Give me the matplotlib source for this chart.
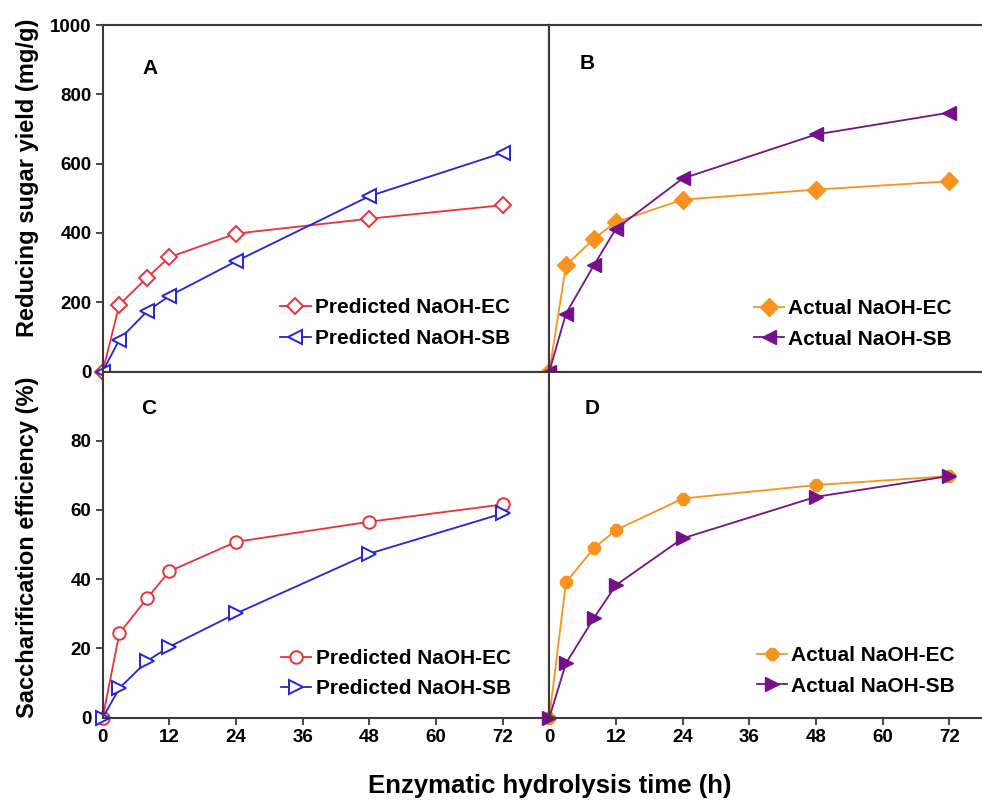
import matplotlib
matplotlib.use("Agg")
import matplotlib.pyplot as plt

plt.rcParams["font.family"] = ["Liberation Sans", "DejaVu Sans"]
plt.rcParams["font.weight"] = "bold"

# hydrolysis times (h)
time_h = [0, 3, 8, 12, 24, 48, 72]

# reducing sugar yield (mg/g)
pred_ec_yield = [0, 193, 271, 330, 398, 441, 480]
pred_sb_yield = [0, 92, 174, 218, 318, 506, 631]
act_ec_yield = [0, 306, 383, 431, 496, 525, 549]
act_sb_yield = [0, 167, 306, 412, 557, 684, 747]

# saccharification efficiency (%)
pred_ec_eff = [0, 24.4, 34.5, 42.3, 50.8, 56.6, 61.6]
pred_sb_eff = [0, 8.5, 16.4, 20.5, 30.1, 47.4, 59.0]
act_ec_eff = [0, 39.1, 48.9, 54.2, 63.3, 67.2, 69.8]
act_sb_eff = [0, 15.7, 28.7, 38.3, 51.8, 63.8, 69.8]

xticks = [0, 12, 24, 36, 48, 60, 72]

red = "#e8323c"
blue = "#2424d8"
orange = "#f7931e"
purple = "#74118a"
spine_col = "#3a3a3a"

fig = plt.figure(figsize=(9.82, 8.02), dpi=100)
W, H = 982.0, 802.0

# axes placed in pixel terms
x_left, x_right = 102.7, 549.3
px_per_h = (502.7 - 102.7) / 72.0
y_top0, y_top1 = 371.5, 25.0
y_bot0, y_bot1 = 717.7, 371.5

w_left = x_right - x_left
w_right = 80 * px_per_h  # runs past the right edge of the figure
vis_right = W - x_right

axA = fig.add_axes([x_left / W, 1 - y_top0 / H, w_left / W, (y_top0 - y_top1) / H])
axB = fig.add_axes([x_right / W, 1 - y_top0 / H, w_right / W, (y_top0 - y_top1) / H])
axC = fig.add_axes([x_left / W, 1 - y_bot0 / H, w_left / W, (y_bot0 - y_bot1) / H])
axD = fig.add_axes([x_right / W, 1 - y_bot0 / H, w_right / W, (y_bot0 - y_bot1) / H])

lw = 1.3
axA.plot(time_h, pred_ec_yield, color=red, marker="D", ms=8.5, mfc="white",
         mec=red, mew=1.4, lw=lw, clip_on=False, label="Predicted NaOH-EC")
axA.plot(time_h, pred_sb_yield, color=blue, marker="<", ms=10, mfc="white",
         mec=blue, mew=1.4, lw=lw, clip_on=False, label="Predicted NaOH-SB")

axB.plot(time_h, act_ec_yield, color=orange, marker="D", ms=9, mfc=orange,
         mec=orange, lw=lw, clip_on=False, label="Actual NaOH-EC")
axB.plot(time_h, act_sb_yield, color=purple, marker="<", ms=10, mfc=purple,
         mec=purple, lw=lw, clip_on=False, label="Actual NaOH-SB")

axC.plot(time_h, pred_ec_eff, color=red, marker="o", ms=9, mfc="white",
         mec=red, mew=1.4, lw=lw, clip_on=False, label="Predicted NaOH-EC")
axC.plot(time_h, pred_sb_eff, color=blue, marker=">", ms=10, mfc="white",
         mec=blue, mew=1.4, lw=lw, clip_on=False, label="Predicted NaOH-SB")

axD.plot(time_h, act_ec_eff, color=orange, marker="8", ms=9, mfc=orange,
         mec=orange, lw=lw, clip_on=False, label="Actual NaOH-EC")
axD.plot(time_h, act_sb_eff, color=purple, marker=">", ms=10, mfc=purple,
         mec=purple, lw=lw, clip_on=False, label="Actual NaOH-SB")

axA.set_xlim(0, w_left / px_per_h)
axC.set_xlim(0, w_left / px_per_h)
axB.set_xlim(0, 80)
axD.set_xlim(0, 80)
for ax in (axA, axB):
    ax.set_ylim(0, 1000)
for ax in (axC, axD):
    ax.set_ylim(0, 100)

axA.set_yticks([0, 200, 400, 600, 800, 1000])
axC.set_yticks([0, 20, 40, 60, 80])
axB.set_yticks([])
axD.set_yticks([])
axA.set_xticks([])
axB.set_xticks([])
axC.set_xticks(xticks)
axD.set_xticks(xticks)

for ax in (axA, axB, axC, axD):
    for s in ax.spines.values():
        s.set_color(spine_col)
        s.set_linewidth(1.5)
    ax.tick_params(direction="out", length=5, width=1.3, color=spine_col,
                   labelsize=13.5, pad=3)
    for lab in ax.get_xticklabels() + ax.get_yticklabels():
        lab.set_fontweight("bold")


def frac(ax, fx):
    # fractions measured on the visible part of the right panels
    return fx * vis_right / w_right if ax in (axB, axD) else fx


letters = [(axA, "A", 0.106, 0.875), (axB, "B", 0.087, 0.888),
           (axC, "C", 0.102, 0.892), (axD, "D", 0.0985, 0.892)]
for ax, t, fx, fy in letters:
    ax.text(frac(ax, fx), fy, t, transform=ax.transAxes, ha="center",
            va="center", fontsize=15, fontweight="bold")

leg_pos = [(axA, 0.912, 0.068), (axB, 0.93, 0.066),
           (axC, 0.914, 0.056), (axD, 0.938, 0.064)]
for ax, bx, by in leg_pos:
    ax.legend(loc="lower right", bbox_to_anchor=(frac(ax, bx), by),
              frameon=False, borderpad=0, borderaxespad=0, handlelength=1.45,
              handletextpad=0.2, labelspacing=0.55,
              prop={"size": 15, "weight": "bold"})

fig.text(28 / W, 1 - 178 / H, "Reducing sugar yield (mg/g)", rotation=90,
         ha="center", va="center", fontsize=17, fontweight="bold")
fig.text(28 / W, 1 - 547 / H, "Saccharification efficiency (%)", rotation=90,
         ha="center", va="center", fontsize=17, fontweight="bold")
fig.text(550 / W, 1 - 786 / H, "Enzymatic hydrolysis time (h)",
         ha="center", va="center", fontsize=18.5, fontweight="bold")

fig.savefig("out.png", dpi=100)
